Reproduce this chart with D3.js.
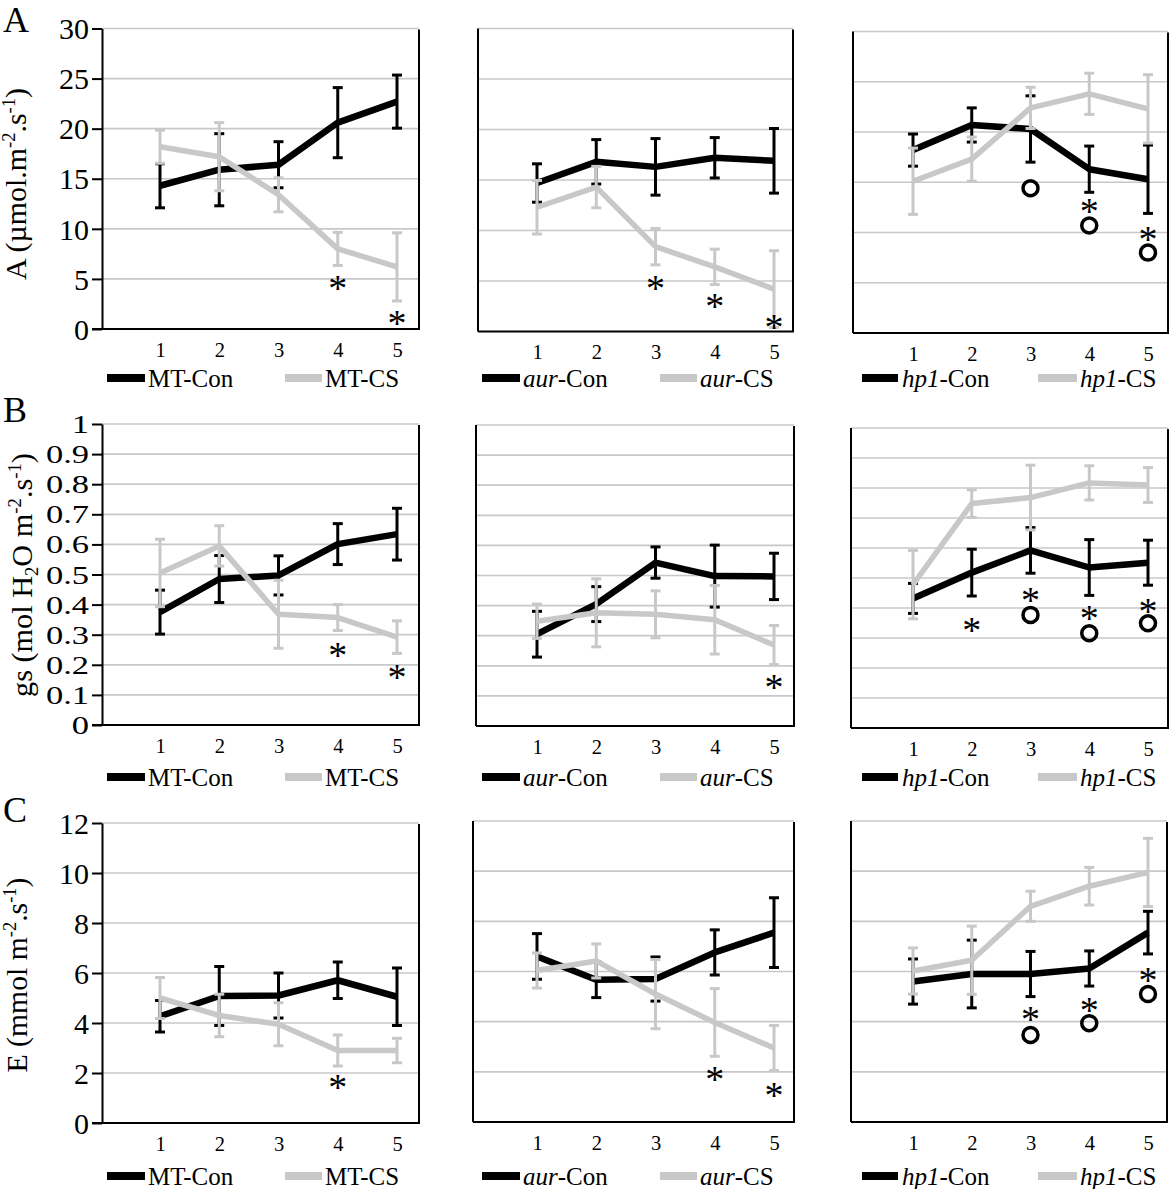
<!DOCTYPE html>
<html><head><meta charset="utf-8">
<script src="https://cdn.jsdelivr.net/npm/d3@7"></script>
<style>
body{margin:0;background:#fff}
svg{display:block}
text{font-family:"Liberation Serif","Times New Roman",serif;fill:#000}
</style>
</head><body>
<svg id="chart" width="1173" height="1189"></svg>
<script>
// ---------------- data ----------------
const days = [1, 2, 3, 4, 5];
const dayLabels = ["1", "2", "3", "4", "5"];
const genotypes = ["MT", "aur", "hp1"];
const italicGenotype = [false, true, true];

const yTicksA = [0, 5, 10, 15, 20, 25, 30];
const yTickLabelsA = ["0", "5", "10", "15", "20", "25", "30"];
const yTicksB = [0, 0.1, 0.2, 0.3, 0.4, 0.5, 0.6, 0.7, 0.8, 0.9, 1];
const yTickLabelsB = ["0", "0.1", "0.2", "0.3", "0.4", "0.5", "0.6", "0.7", "0.8", "0.9", "1"];
const yTicksC = [0, 2, 4, 6, 8, 10, 12];
const yTickLabelsC = ["0", "2", "4", "6", "8", "10", "12"];

// A: net photosynthesis (mean, SE)
const A_MT_Con = [14.3, 15.9, 16.4, 20.6, 22.7];
const A_MT_Con_se = [2.2, 3.6, 2.3, 3.5, 2.65];
const A_MT_CS = [18.2, 17.2, 13.4, 8.0, 6.2];
const A_MT_CS_se = [1.65, 3.4, 1.7, 1.65, 3.4];
const A_aur_Con = [14.7, 16.8, 16.3, 17.2, 16.9];
const A_aur_Con_se = [1.9, 2.2, 2.8, 2.0, 3.2];
const A_aur_CS = [12.3, 14.3, 8.4, 6.4, 4.2];
const A_aur_CS_se = [2.65, 2.05, 1.8, 1.75, 3.8];
const A_hp1_Con = [18.2, 20.7, 20.3, 16.3, 15.3];
const A_hp1_Con_se = [1.6, 1.7, 3.3, 2.3, 3.4];
const A_hp1_CS = [15.1, 17.3, 22.4, 23.8, 22.3];
const A_hp1_CS_se = [3.3, 2.2, 2.05, 2.05, 3.4];

// B: stomatal conductance
const B_MT_Con = [0.375, 0.485, 0.497, 0.601, 0.634];
const B_MT_Con_se = [0.073, 0.078, 0.065, 0.068, 0.086];
const B_MT_CS = [0.505, 0.595, 0.368, 0.357, 0.292];
const B_MT_CS_se = [0.112, 0.067, 0.113, 0.043, 0.054];
const B_aur_Con = [0.305, 0.405, 0.543, 0.498, 0.497];
const B_aur_Con_se = [0.076, 0.058, 0.052, 0.103, 0.077];
const B_aur_CS = [0.348, 0.376, 0.371, 0.353, 0.269];
const B_aur_CS_se = [0.057, 0.113, 0.078, 0.114, 0.065];
const B_hp1_Con = [0.432, 0.518, 0.592, 0.535, 0.551];
const B_hp1_Con_se = [0.05, 0.078, 0.076, 0.093, 0.075];
const B_hp1_CS = [0.478, 0.748, 0.768, 0.817, 0.81];
const B_hp1_CS_se = [0.114, 0.046, 0.108, 0.057, 0.058];

// C: transpiration
const C_MT_Con = [4.27, 5.08, 5.1, 5.71, 5.05];
const C_MT_Con_se = [0.63, 1.18, 0.9, 0.73, 1.15];
const C_MT_CS = [5.0, 4.3, 3.95, 2.9, 2.9];
const C_MT_CS_se = [0.82, 0.85, 0.86, 0.62, 0.49];
const C_aur_Con = [6.6, 5.67, 5.7, 6.76, 7.55];
const C_aur_Con_se = [0.91, 0.71, 0.88, 0.9, 1.39];
const C_aur_CS = [6.04, 6.42, 5.1, 3.97, 2.95];
const C_aur_CS_se = [0.7, 0.68, 1.38, 1.35, 0.9];
const C_hp1_Con = [5.6, 5.9, 5.9, 6.12, 7.55];
const C_hp1_Con_se = [0.9, 1.35, 0.9, 0.7, 0.85];
const C_hp1_CS = [6.02, 6.45, 8.6, 9.4, 9.95];
const C_hp1_CS_se = [0.92, 1.36, 0.6, 0.75, 1.36];

// significance marks: [day, value]
const A_MT_stars = [[4, 4.6], [5, 1.1]];
const A_MT_rings = [];
const A_aur_stars = [[3, 4.85], [4, 3.0], [5, 0.9]];
const A_aur_rings = [];
const A_hp1_stars = [[4, 12.6], [5, 9.9]];
const A_hp1_rings = [[3, 14.4], [4, 10.7], [5, 8.0]];
const B_MT_stars = [[4, 0.249], [5, 0.177]];
const B_MT_rings = [];
const B_aur_stars = [[5, 0.147]];
const B_aur_rings = [];
const B_hp1_stars = [[2, 0.344], [3, 0.443], [4, 0.385], [5, 0.407]];
const B_hp1_rings = [[3, 0.377], [4, 0.316], [5, 0.349]];
const C_MT_stars = [[4, 1.64]];
const C_MT_rings = [];
const C_aur_stars = [[4, 1.91], [5, 1.29]];
const C_aur_rings = [];
const C_hp1_stars = [[3, 4.31], [4, 4.67], [5, 5.86]];
const C_hp1_rings = [[3, 3.47], [4, 3.94], [5, 5.1]];

const panelLetters = ["A", "B", "C"];

// ---------------- layout ----------------
const GRAY = "#c8c8c8";
const frames = [
  [[102, 419, 28.5, 329], [478, 793, 28.5, 331.5], [853, 1168, 31.5, 333]],
  [[102, 419, 424, 725], [476, 794, 425, 726], [851, 1168, 428, 728]],
  [[102, 419, 823, 1123], [473, 794, 821, 1122], [851, 1167, 821, 1122]]
];
const colX = [[160, 397], [537, 774], [913, 1148]];
const legendY = [378, 777, 1176];
const legendX = [[107, 145, 148, 285, 322, 325], [482, 520, 523, 660, 697, 700], [862, 898, 902, 1038, 1077, 1080]];
const letterY = [32, 422, 822];

const rows = [
  {ticks: yTicksA, labels: yTickLabelsA, max: 30, fs: 30, sx: 1,
   data: [[A_MT_Con, A_MT_Con_se, A_MT_CS, A_MT_CS_se, A_MT_stars, A_MT_rings],
          [A_aur_Con, A_aur_Con_se, A_aur_CS, A_aur_CS_se, A_aur_stars, A_aur_rings],
          [A_hp1_Con, A_hp1_Con_se, A_hp1_CS, A_hp1_CS_se, A_hp1_stars, A_hp1_rings]]},
  {ticks: yTicksB, labels: yTickLabelsB, max: 1, fs: 25, sx: 1.38,
   data: [[B_MT_Con, B_MT_Con_se, B_MT_CS, B_MT_CS_se, B_MT_stars, B_MT_rings],
          [B_aur_Con, B_aur_Con_se, B_aur_CS, B_aur_CS_se, B_aur_stars, B_aur_rings],
          [B_hp1_Con, B_hp1_Con_se, B_hp1_CS, B_hp1_CS_se, B_hp1_stars, B_hp1_rings]]},
  {ticks: yTicksC, labels: yTickLabelsC, max: 12, fs: 30, sx: 1,
   data: [[C_MT_Con, C_MT_Con_se, C_MT_CS, C_MT_CS_se, C_MT_stars, C_MT_rings],
          [C_aur_Con, C_aur_Con_se, C_aur_CS, C_aur_CS_se, C_aur_stars, C_aur_rings],
          [C_hp1_Con, C_hp1_Con_se, C_hp1_CS, C_hp1_CS_se, C_hp1_stars, C_hp1_rings]]}
];

const svg = d3.select("#chart");
const FONT = '"Liberation Serif","Times New Roman",serif';

rows.forEach((row, r) => {
  row.data.forEach((pd, c) => {
    const [L, R, T, B] = frames[r][c];
    const [con, conSe, cs, csSe, stars, rings] = pd;
    const y = d3.scaleLinear().domain([0, row.max]).range([B, T]);
    const x = d3.scaleLinear().domain([1, 5]).range(colX[c]);
    const g = svg.append("g");

    // gridlines
    g.selectAll("line.grid").data(row.ticks.filter(v => v > 0)).join("line")
      .attr("x1", L).attr("x2", R).attr("y1", d => y(d)).attr("y2", d => y(d))
      .attr("stroke", GRAY).attr("stroke-width", 1.7);

    // frame
    g.append("line").attr("x1", c === 0 ? L - 10 : L).attr("x2", R + 1).attr("y1", B).attr("y2", B)
      .attr("stroke", "#000").attr("stroke-width", 2);
    if (c !== 0) {
      g.append("line").attr("x1", L).attr("x2", L).attr("y1", T).attr("y2", B)
        .attr("stroke", "#000").attr("stroke-width", 2);
    }
    g.append("line").attr("x1", R).attr("x2", R).attr("y1", T + 1).attr("y2", B)
      .attr("stroke", "#000").attr("stroke-width", 2);

    // left axis for first column
    if (c === 0) {
      const ax = g.append("g").attr("transform", `translate(${L},0)`)
        .call(d3.axisLeft(y).tickValues(row.ticks).tickSize(10).tickSizeOuter(0)
          .tickFormat((d, i) => row.labels[i]));
      ax.attr("font-family", FONT);
      ax.select(".domain").attr("stroke", "#000").attr("stroke-width", 2);
      ax.selectAll(".tick line").attr("stroke", "#000").attr("stroke-width", 2);
      ax.selectAll(".tick text")
        .attr("font-family", FONT)
        .attr("font-size", row.fs)
        .attr("x", -13 / row.sx)
        .attr("dy", "0.34em")
        .attr("transform", `scale(${row.sx},1)`);
    }

    // x axis labels
    const xa = g.append("g").attr("transform", `translate(0,${B})`)
      .call(d3.axisBottom(x).tickValues(days).tickSize(0).tickPadding(13)
        .tickFormat((d, i) => dayLabels[i]));
    xa.attr("font-family", FONT);
    xa.select(".domain").remove();
    xa.selectAll(".tick text")
      .attr("font-family", FONT)
      .attr("font-size", 20.5);

    const series = [
      {m: con, se: conSe, color: "#000", w: 6.5},
      {m: cs, se: csSe, color: GRAY, w: 5.5}
    ];
    series.forEach(s => {
      const eg = g.append("g");
      days.forEach((d, i) => {
        const cx = x(d), y1 = y(s.m[i] + s.se[i]), y2 = y(Math.max(0, s.m[i] - s.se[i]));
        eg.append("line").attr("x1", cx).attr("x2", cx).attr("y1", y1).attr("y2", y2)
          .attr("stroke", s.color).attr("stroke-width", 3);
        [y1, y2].forEach(yy => eg.append("line").attr("x1", cx - 5).attr("x2", cx + 5)
          .attr("y1", yy).attr("y2", yy).attr("stroke", s.color).attr("stroke-width", 3));
      });
      g.append("path")
        .attr("d", d3.line().x((d, i) => x(days[i])).y(d => y(d))(s.m))
        .attr("fill", "none").attr("stroke", s.color).attr("stroke-width", s.w)
        .attr("stroke-linejoin", "round");
    });

    // significance marks
    stars.forEach(([d, v]) => {
      g.append("text").attr("x", x(d)).attr("y", y(v) + 18)
        .attr("text-anchor", "middle").attr("font-size", 38).text("*");
    });
    rings.forEach(([d, v]) => {
      g.append("circle").attr("cx", x(d)).attr("cy", y(v)).attr("r", 7.5)
        .attr("fill", "none").attr("stroke", "#000").attr("stroke-width", 3.5);
    });

    // legend
    const lx = legendX[c], ly = legendY[r];
    const names = [["-Con", "#000", lx[0], lx[1], lx[2]], ["-CS", GRAY, lx[3], lx[4], lx[5]]];
    names.forEach(([suffix, col, a, b, tx]) => {
      g.append("line").attr("x1", a).attr("x2", b).attr("y1", ly).attr("y2", ly)
        .attr("stroke", col).attr("stroke-width", 8);
      const t = g.append("text").attr("x", tx).attr("y", ly + 9).attr("font-size", 25);
      t.append("tspan").attr("font-style", italicGenotype[c] ? "italic" : "normal").text(genotypes[c]);
      t.append("tspan").text(suffix);
    });
  });
});

// panel letters
panelLetters.forEach((l, r) => {
  svg.append("text").attr("x", 3).attr("y", letterY[r]).attr("font-size", 36).text(l);
});

// y titles
function title(parts, cx, cy, targetLen) {
  const t = svg.append("text").attr("font-size", 29).attr("text-anchor", "middle");
  parts(t);
  const len = t.node().getComputedTextLength();
  const s = targetLen / len;
  t.attr("transform", `translate(${cx},${cy}) rotate(-90) scale(${s},1)`);
}
title(t => {
  t.append("tspan").text("A (µmol.m");
  t.append("tspan").attr("font-size", 18).attr("dy", -11).text("-2");
  t.append("tspan").attr("dy", 11).text(".s");
  t.append("tspan").attr("font-size", 18).attr("dy", -11).text("-1");
  t.append("tspan").attr("dy", 11).text(")");
}, 25.5, 184, 192);
title(t => {
  t.append("tspan").text("gs (mol H");
  t.append("tspan").attr("font-size", 18).attr("dy", 6).text("2");
  t.append("tspan").attr("dy", -6).text("O m");
  t.append("tspan").attr("font-size", 18).attr("dy", -11).text("-2");
  t.append("tspan").attr("dy", 11).text(".s");
  t.append("tspan").attr("font-size", 18).attr("dy", -11).text("-1");
  t.append("tspan").attr("dy", 11).text(")");
}, 32, 575, 244);
title(t => {
  t.append("tspan").text("E (mmol m");
  t.append("tspan").attr("font-size", 18).attr("dy", -11).text("-2");
  t.append("tspan").attr("dy", 11).text(".s");
  t.append("tspan").attr("font-size", 18).attr("dy", -11).text("-1");
  t.append("tspan").attr("dy", 11).text(")");
}, 26.5, 975, 195);
</script>
</body></html>
